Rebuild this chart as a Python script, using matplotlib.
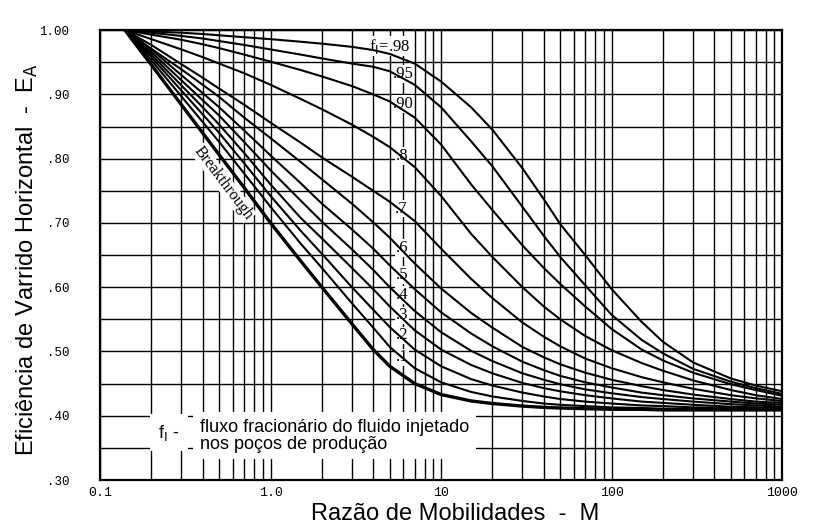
import matplotlib
matplotlib.use("Agg")
import matplotlib.pyplot as plt
from matplotlib.ticker import FixedLocator, NullFormatter

# razao de mobilidades (eixo x, log)
M = [0.14, 0.2, 0.3, 0.4, 0.5, 0.7, 1, 1.5, 2, 3, 4, 5, 7, 10, 15, 20, 30, 40, 50, 70, 100, 150, 200, 300, 500, 700, 1000]

# eficiencia de varrido horizontal E_A (breakthrough e cada f_I)
ea_bt = [1.0, 0.946, 0.884, 0.840, 0.806, 0.755, 0.700, 0.641, 0.600, 0.543, 0.503, 0.477, 0.450, 0.433, 0.423, 0.419, 0.415, 0.413, 0.412, 0.411, 0.410, 0.410, 0.409, 0.409, 0.409, 0.409, 0.409]
ea_10 = [1.0, 0.953, 0.897, 0.857, 0.826, 0.777, 0.725, 0.668, 0.630, 0.575, 0.537, 0.507, 0.474, 0.452, 0.437, 0.430, 0.423, 0.419, 0.417, 0.415, 0.413, 0.412, 0.411, 0.411, 0.410, 0.410, 0.410]
ea_20 = [1.0, 0.958, 0.906, 0.869, 0.840, 0.793, 0.742, 0.688, 0.652, 0.600, 0.565, 0.538, 0.503, 0.477, 0.457, 0.447, 0.436, 0.430, 0.426, 0.422, 0.419, 0.416, 0.415, 0.413, 0.412, 0.411, 0.411]
ea_30 = [1.0, 0.962, 0.914, 0.880, 0.853, 0.809, 0.760, 0.708, 0.676, 0.630, 0.597, 0.570, 0.533, 0.503, 0.479, 0.466, 0.451, 0.443, 0.438, 0.432, 0.427, 0.422, 0.420, 0.417, 0.414, 0.413, 0.412]
ea_40 = [1.0, 0.966, 0.922, 0.891, 0.867, 0.826, 0.782, 0.735, 0.702, 0.659, 0.627, 0.600, 0.563, 0.530, 0.501, 0.485, 0.466, 0.456, 0.449, 0.441, 0.435, 0.429, 0.426, 0.422, 0.418, 0.416, 0.414]
ea_50 = [1.0, 0.970, 0.930, 0.902, 0.880, 0.844, 0.805, 0.762, 0.730, 0.690, 0.660, 0.634, 0.597, 0.561, 0.528, 0.508, 0.484, 0.471, 0.462, 0.452, 0.444, 0.436, 0.432, 0.427, 0.422, 0.419, 0.417]
ea_60 = [1.0, 0.971, 0.939, 0.915, 0.896, 0.864, 0.832, 0.795, 0.768, 0.730, 0.701, 0.677, 0.637, 0.598, 0.560, 0.537, 0.507, 0.491, 0.480, 0.467, 0.456, 0.446, 0.440, 0.433, 0.426, 0.422, 0.420]
ea_70 = [1.0, 0.977, 0.947, 0.926, 0.909, 0.884, 0.856, 0.825, 0.802, 0.772, 0.750, 0.733, 0.703, 0.660, 0.613, 0.583, 0.545, 0.523, 0.508, 0.489, 0.474, 0.460, 0.452, 0.442, 0.432, 0.427, 0.423]
ea_80 = [1.0, 0.986, 0.970, 0.958, 0.948, 0.933, 0.915, 0.893, 0.877, 0.853, 0.834, 0.818, 0.787, 0.742, 0.683, 0.647, 0.600, 0.570, 0.550, 0.524, 0.502, 0.482, 0.470, 0.455, 0.440, 0.432, 0.426]
ea_90 = [1.0, 0.993, 0.985, 0.978, 0.972, 0.962, 0.951, 0.938, 0.928, 0.913, 0.900, 0.889, 0.864, 0.822, 0.760, 0.720, 0.665, 0.630, 0.605, 0.570, 0.535, 0.503, 0.486, 0.467, 0.449, 0.440, 0.431]
ea_95 = [1.0, 0.996, 0.991, 0.987, 0.983, 0.977, 0.970, 0.962, 0.956, 0.948, 0.943, 0.936, 0.915, 0.880, 0.827, 0.788, 0.725, 0.680, 0.647, 0.603, 0.557, 0.518, 0.497, 0.473, 0.453, 0.443, 0.434]
ea_98 = [1.0, 0.998, 0.996, 0.994, 0.992, 0.989, 0.986, 0.982, 0.979, 0.974, 0.969, 0.963, 0.948, 0.920, 0.880, 0.845, 0.785, 0.737, 0.698, 0.650, 0.597, 0.546, 0.515, 0.483, 0.458, 0.447, 0.438]

curves = [ea_10, ea_20, ea_30, ea_40, ea_50, ea_60, ea_70, ea_80, ea_90, ea_95, ea_98]

# rotulos das curvas (texto, M, E_A)
lab_text = [".1", ".2", ".3", ".4", ".5", ".6", ".7", ".8", ".90", ".95", "f$_\\mathrm{I}$=.98"]
lab_m = [5.9, 5.9, 5.9, 5.9, 5.9, 5.9, 5.8, 5.9, 6.0, 6.0, 5.0]
lab_e = [0.491, 0.525, 0.556, 0.588, 0.619, 0.661, 0.722, 0.804, 0.885, 0.932, 0.975]

xticks = [0.1, 1, 10, 100, 1000]
xtick_labels = ["0.1", "1.0", "10", "100", "1000"]
yticks = [0.30, 0.40, 0.50, 0.60, 0.70, 0.80, 0.90, 1.00]
ytick_labels = [".30", ".40", ".50", ".60", ".70", ".80", ".90", "1.00"]

fig = plt.figure(figsize=(8.17, 5.28), dpi=100)
ax = fig.add_axes([0.1224, 0.0909, 0.835, 0.852])

ax.set_xscale("log")
ax.set_xlim(0.1, 1000)
ax.set_ylim(0.30, 1.00)

ax.xaxis.set_major_locator(FixedLocator(xticks))
ax.xaxis.set_minor_locator(FixedLocator([m * 10.0 ** k for k in range(-1, 3) for m in range(2, 10)]))
ax.xaxis.set_minor_formatter(NullFormatter())
ax.set_xticklabels(xtick_labels)
ax.yaxis.set_major_locator(FixedLocator(yticks))
ax.yaxis.set_minor_locator(FixedLocator([0.35, 0.45, 0.55, 0.65, 0.75, 0.85, 0.95]))
ax.set_yticklabels(ytick_labels)

ax.grid(True, which="both", color="black", lw=1.0, zorder=1)
ax.set_axisbelow(True)
ax.tick_params(which="both", length=0)
ax.tick_params(axis="y", pad=22)
ax.tick_params(axis="x", pad=5)
for lab in ax.get_xticklabels():
    lab.set_family("Liberation Mono")
    lab.set_fontsize(9.5)
for lab in ax.get_yticklabels():
    lab.set_family("Liberation Mono")
    lab.set_fontsize(9)
for s in ax.spines.values():
    s.set_linewidth(1.6)

for ea in curves:
    ax.plot(M, ea, color="black", lw=1.5, zorder=4)
ax.plot(M, ea_bt, color="black", lw=2.4, zorder=4)

for t, m, e in zip(lab_text, lab_m, lab_e):
    ax.text(m, e, t, ha="center", va="center", fontsize=12, family="Liberation Serif",
            bbox=dict(facecolor="white", edgecolor="none", pad=0.5), zorder=3)

ax.text(0.53, 0.762, "Breakthrough", rotation=-53, ha="center", va="center", fontsize=11.5,
        family="Liberation Serif", bbox=dict(facecolor="white", edgecolor="none", pad=0.3), zorder=3)

# legenda no canto inferior
ax.text(0.085, 0.105, "f$_\\mathrm{I}$ -", transform=ax.transAxes, ha="left", va="center",
        fontsize=13, family=["Liberation Sans Narrow", "Liberation Sans"],
        bbox=dict(facecolor="white", edgecolor="none", pad=6), zorder=3)
ax.text(0.146, 0.098, "fluxo fracionário do fluido injetado\nnos poços de produção", transform=ax.transAxes,
        ha="left", va="center", fontsize=13, linespacing=0.95,
        family=["Liberation Sans Narrow", "Liberation Sans"],
        bbox=dict(facecolor="white", edgecolor="none", pad=5), zorder=3)

ax.set_xlabel("Razão de Mobilidades  -  M", fontsize=17, family="Liberation Sans")
ax.set_ylabel("Eficiência de Varrido Horizontal  -  E$_\\mathrm{A}$", fontsize=17,
              family="Liberation Sans")
ax.xaxis.set_label_coords(0.52, -0.052)
ax.yaxis.set_label_coords(-0.088, 0.49)

fig.savefig("out.png", dpi=100, facecolor="white")
